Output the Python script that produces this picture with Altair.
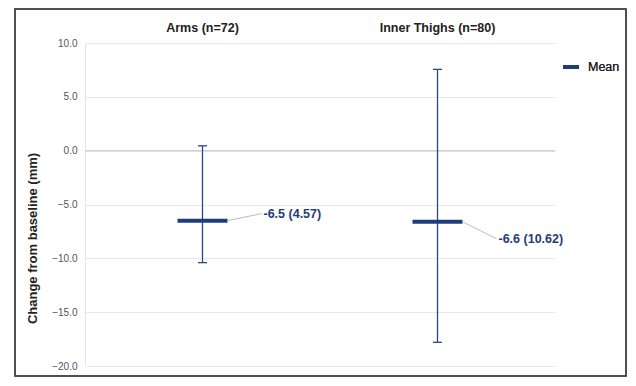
import altair as alt
import pandas as pd

groups = ["Arms (n=72)", "Inner Thighs (n=80)"]
means = [-6.5, -6.6]
sds = [4.57, 10.62]
lows = [-10.4, -17.8]
highs = [0.45, 7.55]
label_text = ["-6.5 (4.57)", "-6.6 (10.62)"]
label_shift = [0.65, -1.58]   # vertical shift of the value labels, in y units

slot = [0.5, 1.5]

df = pd.DataFrame({
    "group": groups, "slot": slot, "mean": means, "sd": sds,
    "low": lows, "high": highs, "label": label_text, "shift": label_shift,
})

FONT = "Liberation Sans"
NAVY = "#1f3c7a"
W, H = 470, 323

xs = alt.Scale(domain=[0, 2])
x = alt.X("slot:Q", scale=xs, axis=None)
y_scale = alt.Scale(domain=[-20, 10], nice=False)

base = alt.Chart(df)

grid = base.mark_tick(opacity=0).encode(
    x=x,
    y=alt.Y("mean:Q", scale=y_scale,
            axis=alt.Axis(title="Change from baseline (mm)", values=[-20, -15, -10, -5, 0, 5, 10],
                          format=".1f", grid=True, gridColor="#e8e8e8", domainColor="#e4e4e4",
                          ticks=False, labelPadding=8, labelColor="#555", labelFontSize=10,
                          labelFont=FONT, titleFont=FONT, titleFontSize=13, titleFontWeight="bold",
                          titleColor="#222", titlePadding=12, titleY=195)),
)

zero = base.transform_calculate(z="0").mark_rule(color="#cfcfcf", strokeWidth=1).encode(
    y=alt.Y("z:Q", scale=y_scale), x=alt.value(0), x2=alt.value(W))

err = base.mark_rule(color="#2a4788", strokeWidth=1.3).encode(
    x=x, y=alt.Y("low:Q", scale=y_scale), y2="high:Q")

cap_lo = base.mark_tick(orient="horizontal", size=9, thickness=1.3, color="#2a4788",
                        opacity=1).encode(x=x, y=alt.Y("low:Q", scale=y_scale))
cap_hi = base.mark_tick(orient="horizontal", size=9, thickness=1.3, color="#2a4788",
                        opacity=1).encode(x=x, y=alt.Y("high:Q", scale=y_scale))

mean_tick = base.mark_tick(orient="horizontal", size=50, thickness=4, color=NAVY,
                           opacity=1).encode(x=x, y=alt.Y("mean:Q", scale=y_scale))

leader = base.transform_calculate(
    x1="datum.slot + 25/235", x2e="datum.slot + 59/235", y2e="datum.mean + datum.shift"
).mark_rule(color="#bdbdbd", strokeWidth=1).encode(
    x=alt.X("x1:Q", scale=xs, axis=None), x2="x2e:Q",
    y=alt.Y("mean:Q", scale=y_scale), y2="y2e:Q")

labels = base.transform_calculate(
    lx="datum.slot + 61/235", ly="datum.mean + datum.shift"
).mark_text(align="left", baseline="middle", font=FONT, fontSize=12.5, fontWeight="bold",
            color=NAVY).encode(
    x=alt.X("lx:Q", scale=xs, axis=None), y=alt.Y("ly:Q", scale=y_scale), text="label:N")

titles = base.mark_text(baseline="middle", font=FONT, fontSize=12.5, fontWeight="bold",
                        color="#222").encode(x=x, y=alt.value(-15), text="group:N")

legend_line = base.mark_rule(color=NAVY, strokeWidth=4).encode(
    x=alt.value(478), x2=alt.value(494), y=alt.value(24))
legend_text = base.mark_text(align="left", baseline="middle", font=FONT, fontSize=12.5,
                             color="#222", text="Mean").encode(x=alt.value(503), y=alt.value(24))

border = base.mark_rect(fillOpacity=0, stroke="#444", strokeWidth=1.5).encode(
    x=alt.value(-70), x2=alt.value(541), y=alt.value(-34), y2=alt.value(333))

chart = alt.layer(
    grid, zero, err, cap_lo, cap_hi, mean_tick, leader, labels, titles,
    legend_line, legend_text, border
).properties(
    width=W, height=H,
    autosize=alt.AutoSizeParams(type="none"),
    padding={"left": 77, "top": 35, "right": 73, "bottom": 12},
    background="white",
).configure_view(stroke=None)

chart.save("out.html", embed_options={"renderer": "svg", "actions": False})
